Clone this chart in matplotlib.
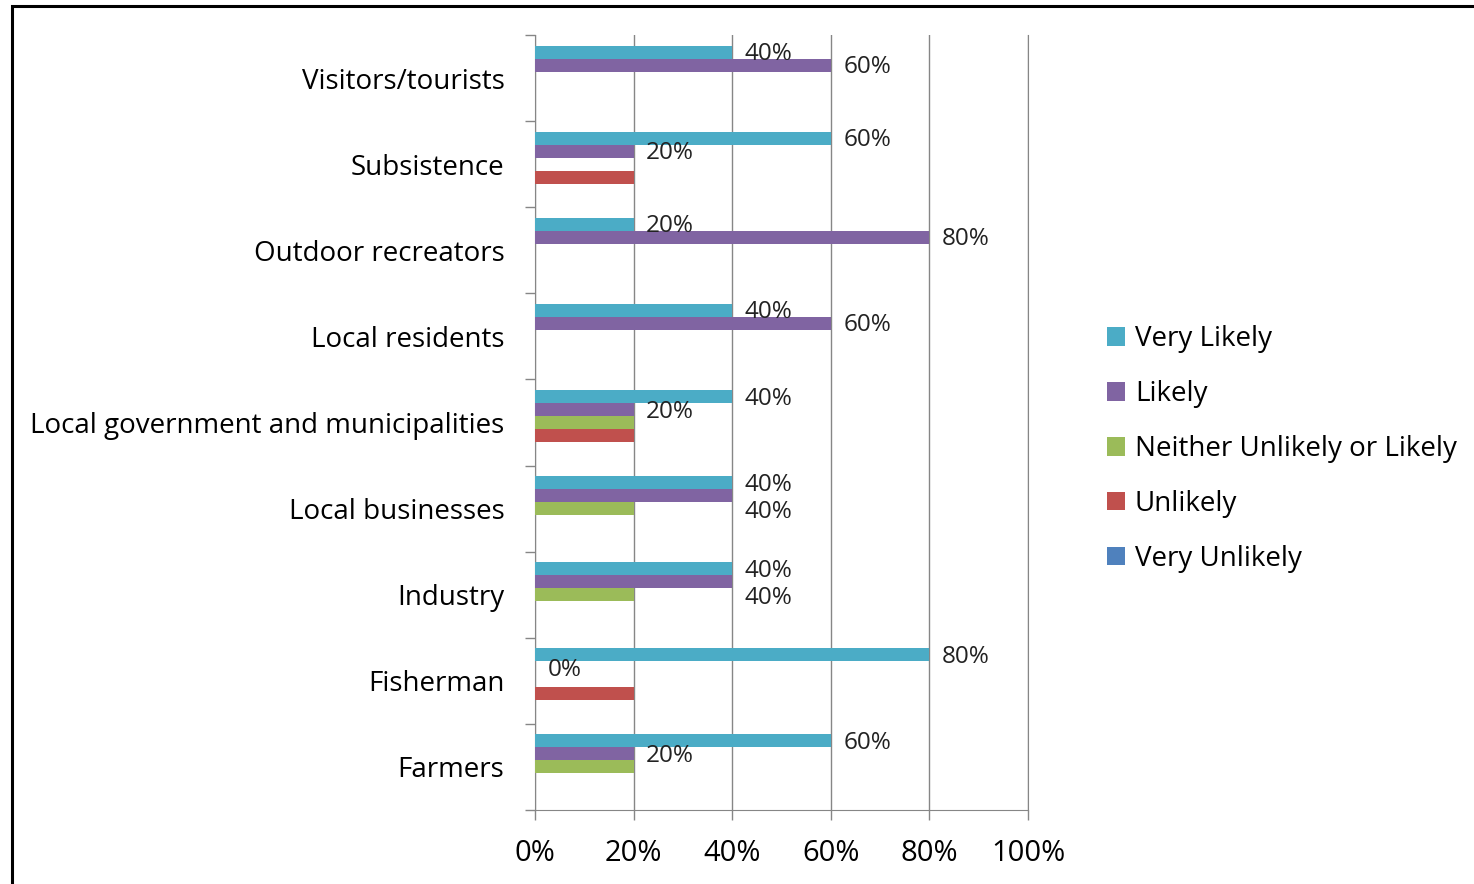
import matplotlib
matplotlib.use('Agg')
import matplotlib.pyplot as plt
import numpy as np
from matplotlib.patches import Rectangle

plt.rcParams['font.family'] = ['Open Sans', 'DejaVu Sans']

# categories, bottom to top
categories = ['Farmers', 'Fisherman', 'Industry', 'Local businesses',
              'Local government and municipalities', 'Local residents',
              'Outdoor recreators', 'Subsistence', 'Visitors/tourists']

series_names = ['Very Likely', 'Likely', 'Neither Unlikely or Likely',
                'Unlikely', 'Very Unlikely']
colors = ['#4BACC6', '#8064A2', '#9BBB59', '#C0504D', '#4F81BD']

very_likely = [60, 80, 40, 40, 40, 40, 20, 60, 40]
likely = [20, 0, 40, 40, 20, 60, 80, 20, 60]
neither = [20, 0, 20, 20, 20, 0, 0, 0, 0]
unlikely = [0, 20, 0, 0, 20, 0, 0, 20, 0]
very_unlikely = [0, 0, 0, 0, 0, 0, 0, 0, 0]

values = [very_likely, likely, neither, unlikely, very_unlikely]
x_ticks = [0, 20, 40, 60, 80, 100]

fig = plt.figure(figsize=(14.74, 8.84), dpi=100)
ax = fig.add_axes([535/1474, 1-810/884, (1028-535)/1474, (810-35)/884])

grey = '#868686'
y = np.arange(len(categories))
h = 0.151
for k, vals in enumerate(values):
    ypos = y + (2 - k) * h
    ax.barh(ypos, vals, height=h, color=colors[k], label=series_names[k], zorder=3)

# data labels only for the first two series
for i in range(len(categories)):
    for k in range(2):
        v = values[k][i]
        dy = -1.5
        if k == 1 and likely[i] == very_likely[i]:
            dy = -12  # pushed down to avoid the label above
        ax.annotate(f'{v}%', (v, y[i] + (2 - k) * h), xytext=(9, dy),
                    textcoords='offset points', ha='left', va='center',
                    fontsize=17.5, color='#222222', zorder=4)

ax.set_xlim(0, 100)
ax.set_ylim(-0.5, len(categories) - 0.5)
ax.set_xticks(x_ticks)
ax.set_xticklabels([f'{t}%' for t in x_ticks], fontsize=21)
ax.set_yticks(y)
ax.set_yticklabels(categories, fontsize=20)
ax.set_yticks(np.arange(-0.5, len(categories)), minor=True)
ax.tick_params(axis='y', which='major', length=0, pad=22)
ax.tick_params(axis='y', which='minor', length=7, color=grey, width=1)
ax.tick_params(axis='x', length=7, color=grey, width=1, pad=14)

ax.grid(axis='x', color=grey, linewidth=1, zorder=0)
ax.spines['top'].set_visible(False)
for s in ['left', 'bottom', 'right']:
    ax.spines[s].set_color(grey)

ax.legend(loc='center left', bbox_to_anchor=(1096/1474, 1 - 449/884),
          bbox_transform=fig.transFigure, frameon=False, fontsize=20,
          handlelength=0.65, handleheight=0.65, handletextpad=0.35,
          labelspacing=0.97, borderaxespad=0)

# outer frame (left and top edges visible)
fig.patches.append(Rectangle((12/1474, -0.05), 1.1, 1 - 6/884 + 0.05,
                             transform=fig.transFigure, fill=False,
                             edgecolor='black', linewidth=2.2))

fig.savefig('out.png', dpi=100)
